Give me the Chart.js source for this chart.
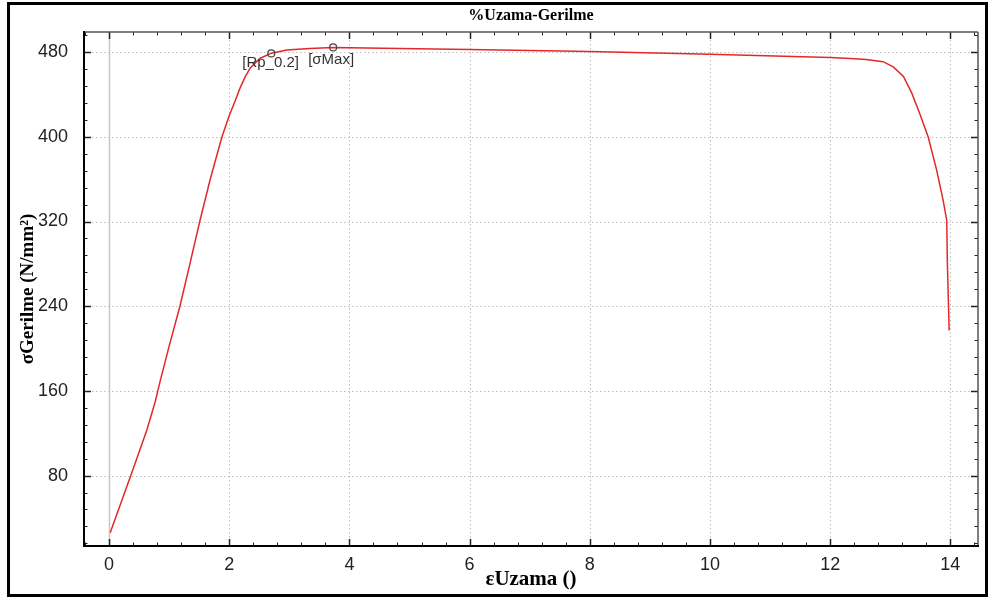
<!DOCTYPE html>
<html><head><meta charset="utf-8">
<script src="https://cdn.jsdelivr.net/npm/chart.js@4.4.1/dist/chart.umd.min.js"></script>
<style>
html,body{margin:0;padding:0;background:#fff;}
#wrap{position:relative;width:988px;height:598px;overflow:hidden;}
#frame{position:absolute;left:7px;top:2px;width:975px;height:589px;border:3px solid #000;}
canvas{position:absolute;left:0;top:0;}
</style></head><body>
<div id="wrap"><div id="frame"></div><canvas id="c" width="988" height="598"></canvas></div>
<script>
const chartTitle = '%Uzama-Gerilme';
const xTitle = 'εUzama ()';
const yTitle = 'σGerilme (N/mm²)';
const strain = [0.02, 0.40, 0.63, 0.77, 0.85, 1.00, 1.18, 1.35, 1.51, 1.68, 1.88, 2.00, 2.10, 2.18, 2.27, 2.35, 2.51, 2.70, 2.96, 3.34, 3.73, 4.84, 6.00, 8.00, 10.00, 12.00, 12.33, 12.60, 12.88, 13.05, 13.22, 13.36, 13.49, 13.63, 13.77, 13.88, 13.94, 13.95, 13.98];
const stress = [26, 86, 123, 150, 169, 202, 240, 281, 320, 359, 400, 420, 434, 446, 457, 465, 474, 479, 482, 483.5, 484.4, 483.5, 482.5, 480.5, 478, 475, 474, 473, 471, 466, 457, 441, 422, 400, 369, 340, 321, 281, 217];
const markStrain = [2.70, 3.73];
const markStress = [478.8, 484.4];
const markLabels = ['[Rp_0.2]', '[σMax]'];
const xTicks = [0, 2, 4, 6, 8, 10, 12, 14];
const yTicks = [80, 160, 240, 320, 400, 480];

const curve = strain.map((v, i) => ({x: v, y: stress[i]}));
const marks = markStrain.map((v, i) => ({x: v, y: markStress[i]}));
const labelOffsets = [[-29, 9], [-25, 12]];

function line(ctx, x1, y1, x2, y2) { ctx.beginPath(); ctx.moveTo(x1, y1); ctx.lineTo(x2, y2); ctx.stroke(); }

const framePlugin = {
  id: 'framePlugin',
  beforeDatasetsDraw(chart) {
    const {ctx, chartArea: a, scales: {x, y}} = chart;
    ctx.save();
    ctx.lineWidth = 1;
    ctx.strokeStyle = '#bdbdbd';
    ctx.setLineDash([1.5, 2.5]);
    xTicks.forEach(v => {
      if (v === 0) return;
      const px = Math.round(x.getPixelForValue(v)) + 0.5;
      line(ctx, px, a.top, px, a.bottom);
    });
    yTicks.forEach(v => {
      const py = Math.round(y.getPixelForValue(v)) + 0.5;
      line(ctx, a.left, py, a.right, py);
    });
    ctx.setLineDash([]);
    ctx.strokeStyle = '#c6c6c6';
    ctx.lineWidth = 1.5;
    const p0 = Math.round(x.getPixelForValue(0)) + 0.5;
    line(ctx, p0, a.top, p0, a.bottom);
    ctx.restore();
  },
  afterDatasetsDraw(chart) {
    const {ctx, chartArea: a, scales: {x, y}} = chart;
    ctx.save();
    ctx.strokeStyle = '#222';
    ctx.lineWidth = 1;
    for (let k = -1; k <= 36; k++) {
      const v = k * 0.4;
      if (v < x.min || v > x.max) continue;
      const major = Math.abs(v / 2 - Math.round(v / 2)) < 1e-6;
      const len = major ? 7 : 3.5;
      const px = Math.round(x.getPixelForValue(v)) + 0.5;
      ctx.lineWidth = major ? 1.5 : 1;
      line(ctx, px, a.bottom, px, a.bottom - len);
      line(ctx, px, a.top, px, a.top + len);
    }
    for (let k = 1; k <= 31; k++) {
      const v = k * 16;
      if (v < y.min || v > y.max) continue;
      const major = v % 80 === 0;
      const len = major ? 7 : 3.5;
      const py = Math.round(y.getPixelForValue(v)) + 0.5;
      ctx.lineWidth = major ? 1.5 : 1;
      line(ctx, a.left, py, a.left + len, py);
      line(ctx, a.right, py, a.right - len, py);
    }
    ctx.strokeStyle = '#555';
    ctx.lineWidth = 1.5;
    line(ctx, a.left, a.top, a.right, a.top);
    line(ctx, a.right, a.top, a.right, a.bottom);
    ctx.strokeStyle = '#000';
    ctx.lineWidth = 2;
    line(ctx, a.left, a.top - 1, a.left, a.bottom + 1);
    line(ctx, a.left - 1, a.bottom, a.right + 1, a.bottom);
    ctx.fillStyle = '#333';
    ctx.font = '15px "Liberation Sans", Arial, sans-serif';
    ctx.textAlign = 'left';
    ctx.textBaseline = 'middle';
    markLabels.forEach((t, i) => {
      const px = x.getPixelForValue(markStrain[i]);
      const py = y.getPixelForValue(markStress[i]);
      ctx.fillText(t, px + labelOffsets[i][0], py + labelOffsets[i][1]);
    });
    ctx.restore();
  }
};

const tickFont = {family: '"Liberation Sans", Arial, sans-serif', size: 18};
const xTitleFont = {family: '"Liberation Serif", "Times New Roman", serif', size: 21, weight: 'bold', lineHeight: 1};
const yTitleFont = {family: '"Liberation Serif", "Times New Roman", serif', size: 19, weight: 'bold', lineHeight: 1};

new Chart(document.getElementById('c'), {
  type: 'scatter',
  data: {
    datasets: [
      {data: marks, showLine: false, pointRadius: 3.5, pointBorderWidth: 1.2, pointBorderColor: '#444', pointBackgroundColor: 'rgba(255,255,255,0)', order: 0},
      {data: curve, showLine: true, pointRadius: 0, borderColor: 'rgb(228,40,40)', borderWidth: 1.5, tension: 0, order: 1}
    ]
  },
  options: {
    responsive: false,
    animation: false,
    events: [],
    layout: {padding: {left: 0, right: 10, top: 0, bottom: 0}},
    plugins: {
      legend: {display: false},
      tooltip: {enabled: false},
      title: {display: true, text: chartTitle, fullSize: false, color: '#000',
        font: {family: '"Liberation Serif", "Times New Roman", serif', size: 16, weight: 'bold', lineHeight: 1.2},
        padding: {top: 6.4, bottom: 6.4}}
    },
    scales: {
      x: {
        type: 'linear', min: -0.416, max: 14.46,
        grid: {display: false}, border: {display: false},
        afterBuildTicks: s => { s.ticks = xTicks.map(v => ({value: v})); },
        afterFit: s => { s.height = 52; },
        ticks: {font: tickFont, color: '#222', padding: 0, maxRotation: 0, autoSkip: false},
        title: {display: true, text: xTitle, color: '#000', font: xTitleFont, padding: {top: 0, bottom: 8}}
      },
      y: {
        type: 'linear', min: 13.5, max: 499,
        grid: {display: false}, border: {display: false},
        afterBuildTicks: s => { s.ticks = yTicks.map(v => ({value: v})); },
        afterFit: s => { s.width = 84; },
        ticks: {font: tickFont, color: '#222', padding: 8, autoSkip: false},
        title: {display: true, text: yTitle, color: '#000', font: yTitleFont, padding: {top: 19, bottom: 0}}
      }
    }
  },
  plugins: [framePlugin]
});
</script>
</body></html>
